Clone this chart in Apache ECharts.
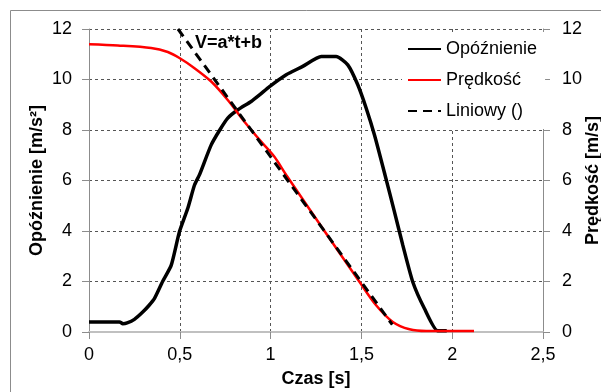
<!DOCTYPE html>
<html>
<head>
<meta charset="utf-8">
<script src="https://cdn.jsdelivr.net/npm/echarts@6/dist/echarts.min.js"></script>
<style>
  html, body { margin: 0; padding: 0; background: #fff; }
  #chart { width: 601px; height: 392px; }
</style>
</head>
<body>
<div id="chart"></div>
<script>
// czas [s] i opóźnienie [m/s2]
const opoznienieT = [0, 0.168, 0.186, 0.21, 0.25, 0.296, 0.33, 0.36, 0.406, 0.453, 0.498, 0.544, 0.581, 0.608,
  0.673, 0.72, 0.764, 0.82, 0.893, 0.939, 0.994, 1.086, 1.177, 1.279, 1.361, 1.425, 1.48, 1.526, 1.572,
  1.63, 1.682, 1.728, 1.783, 1.847, 1.92, 1.97];
const opoznienieV = [0.40, 0.40, 0.33, 0.36, 0.50, 0.79, 1.05, 1.32, 2.01, 2.65, 3.97, 4.9, 5.82, 6.22,
  7.41, 8.0, 8.47, 8.8, 9.13, 9.39, 9.72, 10.19, 10.52, 10.91, 10.91, 10.58, 9.79, 8.87, 7.8,
  6.22, 4.76, 3.44, 1.98, 0.93, 0.05, 0.05];

// prędkość [m/s]
const predkoscT = [0, 0.159, 0.342, 0.434, 0.498, 0.581, 0.673, 0.764, 0.856, 0.948, 1.021, 1.086,
  1.287, 1.49, 1.581, 1.673, 1.765, 1.857, 2.12];
const predkoscV = [11.4, 11.35, 11.25, 11.09, 10.85, 10.45, 9.92, 9.19, 8.33, 7.54, 6.94, 6.22,
  4.10, 1.98, 1.06, 0.40, 0.11, 0.04, 0.04];

// linia trendu V=a*t+b
const liniowyT = [0.49, 1.67];
const liniowyV = [12.0, 0.29];

const xTicks = [0, 0.5, 1, 1.5, 2, 2.5];

const pairs = (ts, vs) => ts.map((t, i) => [t, vs[i]]);
const FONT = "'Liberation Sans', Arial, sans-serif";

const chart = echarts.init(document.getElementById('chart'));

const yAxisBase = {
  type: 'value',
  min: 0,
  max: 12,
  interval: 2,
  nameLocation: 'middle',
  nameMoveOverlap: false,
  nameTextStyle: { fontFamily: FONT, fontSize: 18, fontWeight: 'bold', color: '#000' },
  axisLine: { show: true, lineStyle: { color: '#8c8c8c', width: 1 } },
  axisTick: { show: true, inside: false, length: 7, lineStyle: { color: '#8c8c8c' } },
  axisLabel: { fontFamily: FONT, fontSize: 18, color: '#000', margin: 17 }
};

chart.setOption({
  animation: false,
  backgroundColor: '#fff',
  textStyle: { fontFamily: FONT },
  grid: { left: 89, right: 58, top: 29, bottom: 60, outerBoundsMode: 'none', containLabel: false },
  graphic: [
    {
      type: 'rect',
      z: -10,
      shape: { x: 10.5, y: 10.5, width: 640, height: 440 },
      style: { fill: null, stroke: '#8c8c8c', lineWidth: 1 }
    },
    {
      type: 'text',
      left: 195,
      top: 34,
      style: { text: 'V=a*t+b', font: "bold 18px 'Liberation Sans', Arial, sans-serif", fill: '#000' }
    }
  ],
  legend: {
    left: 402,
    top: 32,
    orient: 'vertical',
    padding: [8, 8, 9, 5],
    itemGap: 13,
    itemWidth: 33,
    itemHeight: 14,
    backgroundColor: '#fff',
    itemStyle: { opacity: 0 },
    textStyle: { fontFamily: FONT, fontSize: 18, color: '#000' },
    data: ['Opóźnienie', 'Prędkość', 'Liniowy ()']
  },
  xAxis: {
    type: 'value',
    min: 0,
    max: 2.5,
    interval: 0.5,
    name: 'Czas [s]',
    nameLocation: 'middle',
    nameGap: 38,
    nameMoveOverlap: false,
    nameTextStyle: { fontFamily: FONT, fontSize: 18, fontWeight: 'bold', color: '#000' },
    axisLine: { show: true, onZero: false, lineStyle: { color: '#c0c0c0', width: 2 } },
    axisTick: { show: true, length: 7, lineStyle: { color: '#8c8c8c' } },
    axisLabel: {
      fontFamily: FONT, fontSize: 18, color: '#000', margin: 14,
      formatter: v => (xTicks.includes(v) ? String(v).replace('.', ',') : '')
    },
    splitLine: { show: true, lineStyle: { color: '#555', type: [3, 3], width: 1 } }
  },
  yAxis: [
    Object.assign({}, yAxisBase, {
      position: 'left',
      name: 'Opóźnienie [m/s²]',
      nameGap: 43,
      splitLine: { show: true, lineStyle: { color: '#555', type: [3, 3], width: 1 } }
    }),
    Object.assign({}, yAxisBase, {
      position: 'right',
      name: 'Prędkość [m/s]',
      nameGap: 41,
      axisLabel: { fontFamily: FONT, fontSize: 18, color: '#000', margin: 19 },
      splitLine: { show: false }
    })
  ],
  series: [
    {
      name: 'Opóźnienie',
      type: 'line',
      yAxisIndex: 0,
      data: pairs(opoznienieT, opoznienieV),
      showSymbol: false,
      symbol: 'none',
      smooth: 0.2,
      lineStyle: { color: '#000', width: 3.5 },
      itemStyle: { color: '#000' }
    },
    {
      name: 'Prędkość',
      type: 'line',
      yAxisIndex: 1,
      data: pairs(predkoscT, predkoscV),
      showSymbol: false,
      symbol: 'none',
      smooth: 0.3,
      lineStyle: { color: '#ff0000', width: 2.5 },
      itemStyle: { color: '#ff0000' }
    },
    {
      name: 'Liniowy ()',
      type: 'line',
      yAxisIndex: 1,
      data: pairs(liniowyT, liniowyV),
      showSymbol: false,
      symbol: 'none',
      lineStyle: { color: '#000', width: 3, type: [9, 6] },
      itemStyle: { color: '#000' }
    }
  ]
});
</script>
</body>
</html>
